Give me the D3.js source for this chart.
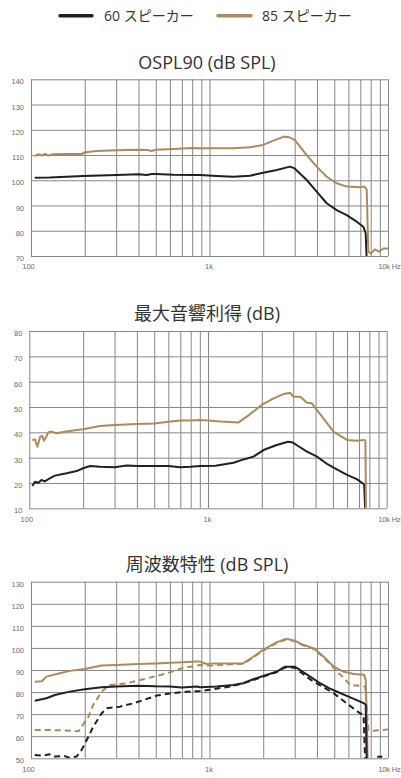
<!DOCTYPE html>
<html><head><meta charset="utf-8">
<script src="https://cdn.jsdelivr.net/npm/d3@7"></script>
<style>
body{margin:0;background:#fff;}
svg{display:block;}
.tick text{font-family:"Liberation Sans",Arial,sans-serif;font-size:7.5px;fill:#6b6b6b;}
.tick line{stroke:#868686;stroke-width:1;}
.title{font-family:"Open Sans","Noto Sans CJK JP",sans-serif;font-size:18px;fill:#333;}
.leg{font-family:"Open Sans","Noto Sans CJK JP",sans-serif;font-size:14px;fill:#333;}
</style></head>
<body><svg id="c" width="401" height="778"></svg>
<script>
// ---- data ----
const legendLabels = ["60 スピーカー", "85 スピーカー"];
const colors = ["#231f20", "#a98b5d"];
const titles = ["OSPL90 (dB SPL)", "最大音響利得 (dB)", "周波数特性 (dB SPL)"];
const gridFreqs = [100,200,300,400,500,600,700,800,900,1000,2000,3000,4000,5000,6000,7000,8000,9000,10000];
const xLabels = {100:"100", 1000:"1k", 10000:"10k Hz"};
const yTicks1 = [70,80,90,100,110,120,130,140];
const yTicks2 = [10,20,30,40,50,60,70,80];
const yTicks3 = [50,60,70,80,90,100,110,120,130];

const ospl60 = [[105,101.0],[127,101.1],[196,101.7],[302,102.1],[400,102.4],[445,102.1],[474,102.5],[500,102.5],[627,102.2],[800,102.1],[885,102.1],[1097,101.7],[1360,101.4],[1686,101.8],[2000,103.0],[2380,104.1],[2825,105.4],[3000,104.7],[3504,100.1],[3985,95.5],[4536,90.9],[5158,88.2],[5870,86.2],[6680,83.6],[7275,81.6],[7500,79.0],[7600,68]];
const ospl85 = [[105,109.6],[110,110.3],[115,109.8],[120,110.4],[125,109.8],[133,110.3],[158,110.4],[192,110.4],[201,111.1],[233,111.6],[302,111.9],[400,112.1],[450,112.0],[474,111.6],[500,112.1],[627,112.4],[800,112.8],[885,112.7],[1360,112.7],[1686,113.1],[2000,114.0],[2277,115.7],[2614,117.3],[2800,117.0],[3000,116.0],[3504,110.0],[3985,105.4],[4536,101.4],[5158,98.8],[5870,97.5],[6966,97.2],[7366,97.5],[7600,96.4],[7757,71.7],[8000,71.0],[8455,72.6],[8900,71.7],[9410,73.0],[10000,73.0]];

const gain60 = [[104,18.8],[107.6,20.5],[112,20.0],[117,21.2],[122,20.6],[130,21.8],[139,22.9],[162,23.8],[184,24.7],[200,25.8],[219,26.7],[249,26.4],[300,26.2],[351,26.9],[400,26.7],[500,26.7],[600,26.7],[700,26.2],[800,26.4],[904,26.7],[1100,26.8],[1390,28.0],[1581,29.3],[1795,30.4],[2045,33.0],[2423,35.0],[2805,36.3],[2940,36.1],[3125,35.0],[3580,32.4],[4074,30.4],[4636,27.5],[5257,25.4],[6000,23.2],[6800,21.5],[7476,19.5],[7600,8]];
const gain85 = [[104,37.0],[107.6,37.2],[111,34.3],[115,38.3],[118,38.6],[121,36.7],[128,40.0],[133,40.3],[142,39.6],[155,40.1],[184,40.9],[200,41.2],[249,42.5],[300,42.9],[400,43.3],[500,43.5],[600,44.2],[700,44.7],[800,44.7],[904,44.9],[1000,44.7],[1170,44.3],[1483,43.9],[1651,46.2],[2000,50.8],[2328,53.4],[2648,55.1],[2887,55.6],[3000,54.1],[3300,53.9],[3580,51.7],[3800,51.5],[4074,48.8],[4636,43.6],[5048,40.2],[6000,37.0],[6800,36.7],[7476,37.0],[7600,36.8],[7660,8]];

const fr60 = [[105,76.1],[122,77.2],[136,78.7],[165,80.2],[200,81.3],[249,82.2],[300,82.5],[400,82.9],[500,82.6],[600,82.5],[700,82.1],[850,82.5],[885,82.2],[1097,82.5],[1360,83.2],[1549,84.0],[1757,85.8],[2000,87.3],[2370,89.2],[2650,91.5],[3000,91.5],[3220,90.0],[3660,87.0],[4170,84.0],[4700,81.7],[5350,79.7],[6150,77.6],[7360,74.9],[7500,74.2],[7600,48]];
const fr60d = [[105,51.5],[115,51.2],[127,51.8],[135,50.8],[155,51.0],[165,50.2],[180,50.8],[192,53.8],[210,59.8],[223,64.3],[249,70.4],[266,72.7],[315,73.4],[374,74.9],[426,76.4],[506,78.4],[600,79.4],[745,80.2],[885,80.5],[1000,81.0],[1360,82.8],[1757,85.4],[2000,87.0],[2370,89.0],[2650,91.2],[3000,91.0],[3300,88.5],[3700,85.5],[4970,79.4],[5860,74.9],[6960,70.4],[7300,69.7],[7450,48],[8000,null],[8700,50.7],[9300,50.7]];
const fr85 = [[105,84.7],[115,84.9],[122,87.0],[145,88.5],[165,89.6],[200,90.5],[249,92.0],[300,92.3],[400,92.7],[500,93.0],[700,93.5],[850,93.9],[885,93.8],[965,92.7],[1050,93.0],[1360,93.0],[1549,93.1],[1757,96.0],[2000,99.1],[2370,102.5],[2700,104.2],[3000,103.3],[3380,101.3],[3840,99.8],[4370,96.0],[4970,91.5],[5650,89.2],[6430,88.2],[7360,87.8],[7500,85.5],[7600,70],[7700,48]];
const fr85d = [[105,62.8],[127,62.8],[170,62.5],[185,62.3],[192,64.3],[210,68.9],[223,74.2],[249,80.2],[277,83.2],[344,84.0],[426,85.8],[576,88.5],[700,90.8],[885,92.3],[1000,92.0],[1360,92.6],[1549,92.8],[1757,95.7],[2000,98.8],[2370,102.2],[2700,103.9],[3000,103.0],[3380,101.0],[3840,99.5],[4370,95.6],[4970,91.0],[5160,88.8],[5400,88.0],[6150,83.2],[7000,82.8],[7450,82.5],[7760,62.8],[8250,62.5],[9410,62.8],[10000,63.1]];

// ---- drawing ----
const svg = d3.select("#c");

// legend
const leg = svg.append("g");
[[60,92,104],[218,251,262]].forEach((p,i)=>{
  leg.append("line").attr("x1",p[0]).attr("x2",p[1]).attr("y1",15.7).attr("y2",15.7)
    .attr("stroke",colors[i]).attr("stroke-width",3.5).attr("stroke-linecap","round");
  leg.append("text").attr("class","leg").attr("x",p[2]).attr("y",20.5).text(legendLabels[i]);
});

const charts = [
  {title:titles[0], x0:31, x1:388, yTop:79.3, yBot:256, ticks:yTicks1, series:[{d:ospl60,c:0},{d:ospl85,c:1}], titleY:69},
  {title:titles[1], x0:29.3, x1:386.7, yTop:331, yBot:508.3, ticks:yTicks2, series:[{d:gain60,c:0},{d:gain85,c:1}], titleY:320},
  {title:titles[2], x0:31, x1:388, yTop:581.7, yBot:758.3, ticks:yTicks3, series:[{d:fr85d,c:1,dash:true},{d:fr60d,c:0,dash:true},{d:fr85,c:1},{d:fr60,c:0}], titleY:571}
];

charts.forEach((ch,ci)=>{
  const x = d3.scaleLog().domain([100,10000]).range([ch.x0,ch.x1]);
  const y = d3.scaleLinear().domain(d3.extent(ch.ticks)).range([ch.yBot,ch.yTop]);
  const w = ch.x1-ch.x0, h = ch.yBot-ch.yTop;
  const g = svg.append("g");

  g.append("text").attr("class","title").attr("x",207).attr("y",ch.titleY)
    .attr("text-anchor","middle").text(ch.title);

  const ya = g.append("g").attr("transform",`translate(${ch.x0},0)`)
    .call(d3.axisLeft(y).tickValues(ch.ticks).tickSize(-w).tickPadding(7).tickFormat(d3.format("d")));
  ya.select(".domain").remove();
  ya.selectAll(".tick text").attr("dy","0.6em");

  const xa = g.append("g").attr("transform",`translate(0,${ch.yBot})`)
    .call(d3.axisBottom(x).tickValues(gridFreqs).tickSize(-h).tickPadding(0).tickFormat(d=>xLabels[d]||""));
  xa.select(".domain").remove();
  xa.selectAll(".tick text").attr("y",13.3).attr("dy",0)
    .attr("dx",d=>d===100?-3:(d===1000?-1:0))
    .attr("text-anchor",d=>d===10000?"end":"middle");
  xa.selectAll(".tick text").filter(d=>d===10000)
    .attr("transform",`translate(${400-x(10000)},0)`).style("letter-spacing","-0.2px");

  const clipId = "clip"+ci;
  svg.append("clipPath").attr("id",clipId).append("rect")
    .attr("x",ch.x0-2).attr("y",ch.yTop-2).attr("width",w+4).attr("height",h+2);

  const line = d3.line().defined(d=>d[1]!==null).x(d=>x(d[0])).y(d=>y(d[1]));
  const lg = g.append("g").attr("clip-path",`url(#${clipId})`);
  ch.series.forEach(s=>{
    lg.append("path").attr("d",line(s.d)).attr("fill","none")
      .attr("stroke",colors[s.c]).attr("stroke-width",2)
      .attr("stroke-linejoin","round")
      .attr("stroke-dasharray",s.dash?"6,4":null);
  });
});
</script></body></html>
